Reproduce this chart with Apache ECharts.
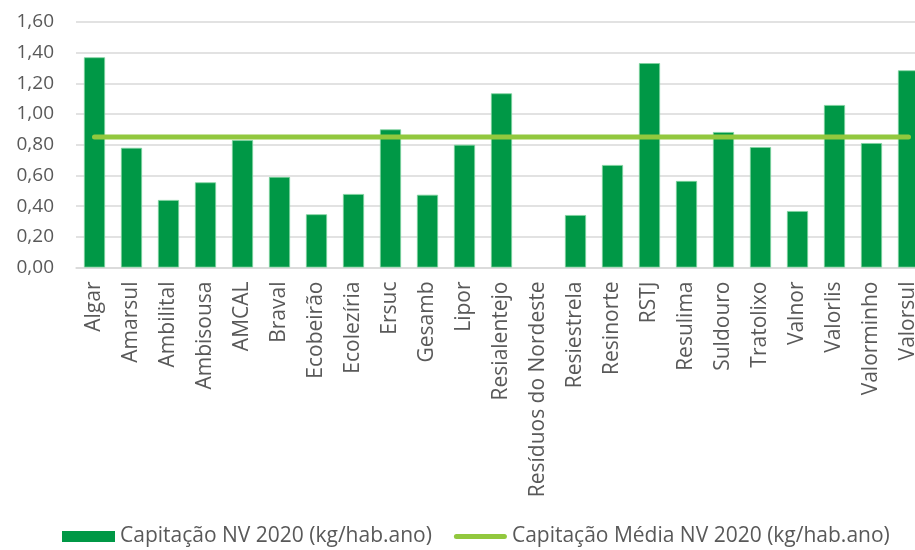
<!DOCTYPE html>
<html>
<head>
<meta charset="utf-8">
<script src="https://cdn.jsdelivr.net/npm/echarts@6/dist/echarts.min.js"></script>
<style>
html,body{margin:0;padding:0;background:#fff;}
#chart{width:915px;height:550px;}
</style>
</head>
<body>
<div id="chart"></div>
<script>
var categories = ["Algar","Amarsul","Ambilital","Ambisousa","AMCAL","Braval","Ecobeirão","Ecolezíria","Ersuc","Gesamb","Lipor","Resialentejo","Resíduos do Nordeste","Resiestrela","Resinorte","RSTJ","Resulima","Suldouro","Tratolixo","Valnor","Valorlis","Valorminho","Valorsul"];
var capitacao = [1.37,0.78,0.44,0.555,0.83,0.59,0.347,0.479,0.90,0.474,0.80,1.135,null,0.342,0.668,1.332,0.564,0.883,0.785,0.368,1.059,0.811,1.285];
var capitacaoMedia = [0.85,0.85,0.85,0.85,0.85,0.85,0.85,0.85,0.85,0.85,0.85,0.85,0.85,0.85,0.85,0.85,0.85,0.85,0.85,0.85,0.85,0.85,0.85];
var seriesNames = ["Capitação NV 2020 (kg/hab.ano)","Capitação Média NV 2020 (kg/hab.ano)"];

var FONT = "Open Sans";
var chart = echarts.init(document.getElementById('chart'));
chart.setOption({
  animation: false,
  textStyle: {fontFamily: FONT},
  grid: {left: 76, top: 22, width: 851, height: 245.5, containLabel: false, outerBoundsMode: 'none'},
  legend: {
    left: 62, top: 526, padding: 0, itemWidth: 53, itemHeight: 11, itemGap: 22,
    textStyle: {fontFamily: FONT, fontSize: 21, color: '#595959'},
    data: [
      {name: seriesNames[0], icon: 'rect', itemStyle: {borderWidth: 0}},
      {name: seriesNames[1], icon: 'path://M2.5,0 L50.5,0 A2.5,2.5 0 0 1 50.5,5 L2.5,5 A2.5,2.5 0 0 1 2.5,0 Z', itemStyle: {color: '#92c83e', borderWidth: 0}}
    ]
  },
  xAxis: {
    type: 'category', data: categories,
    axisLine: {lineStyle: {color: '#d9d9d9', width: 1.5}},
    axisTick: {show: false},
    axisLabel: {rotate: 90, interval: 0, margin: 14, fontFamily: FONT, fontSize: 21, color: '#595959'}
  },
  yAxis: {
    type: 'value', min: 0, max: 1.6, interval: 0.2,
    axisLine: {show: false}, axisTick: {show: false},
    splitLine: {lineStyle: {color: '#d9d9d9', width: 1.5}},
    axisLabel: {margin: 22, fontFamily: FONT, fontSize: 19, color: '#595959',
      formatter: function(v){ return v.toFixed(2).replace('.', ','); }}
  },
  series: [
    {name: seriesNames[0], type: 'bar', data: capitacao, barWidth: '57%',
     itemStyle: {color: '#009846', borderColor: '#7fd3a0', borderWidth: 0.8}},
    {name: seriesNames[1], type: 'line', data: capitacaoMedia, symbol: 'none',
     lineStyle: {color: '#92c83e', width: 5, cap: 'round'}, itemStyle: {color: '#92c83e'}, z: 5}
  ]
});
</script>
</body>
</html>
